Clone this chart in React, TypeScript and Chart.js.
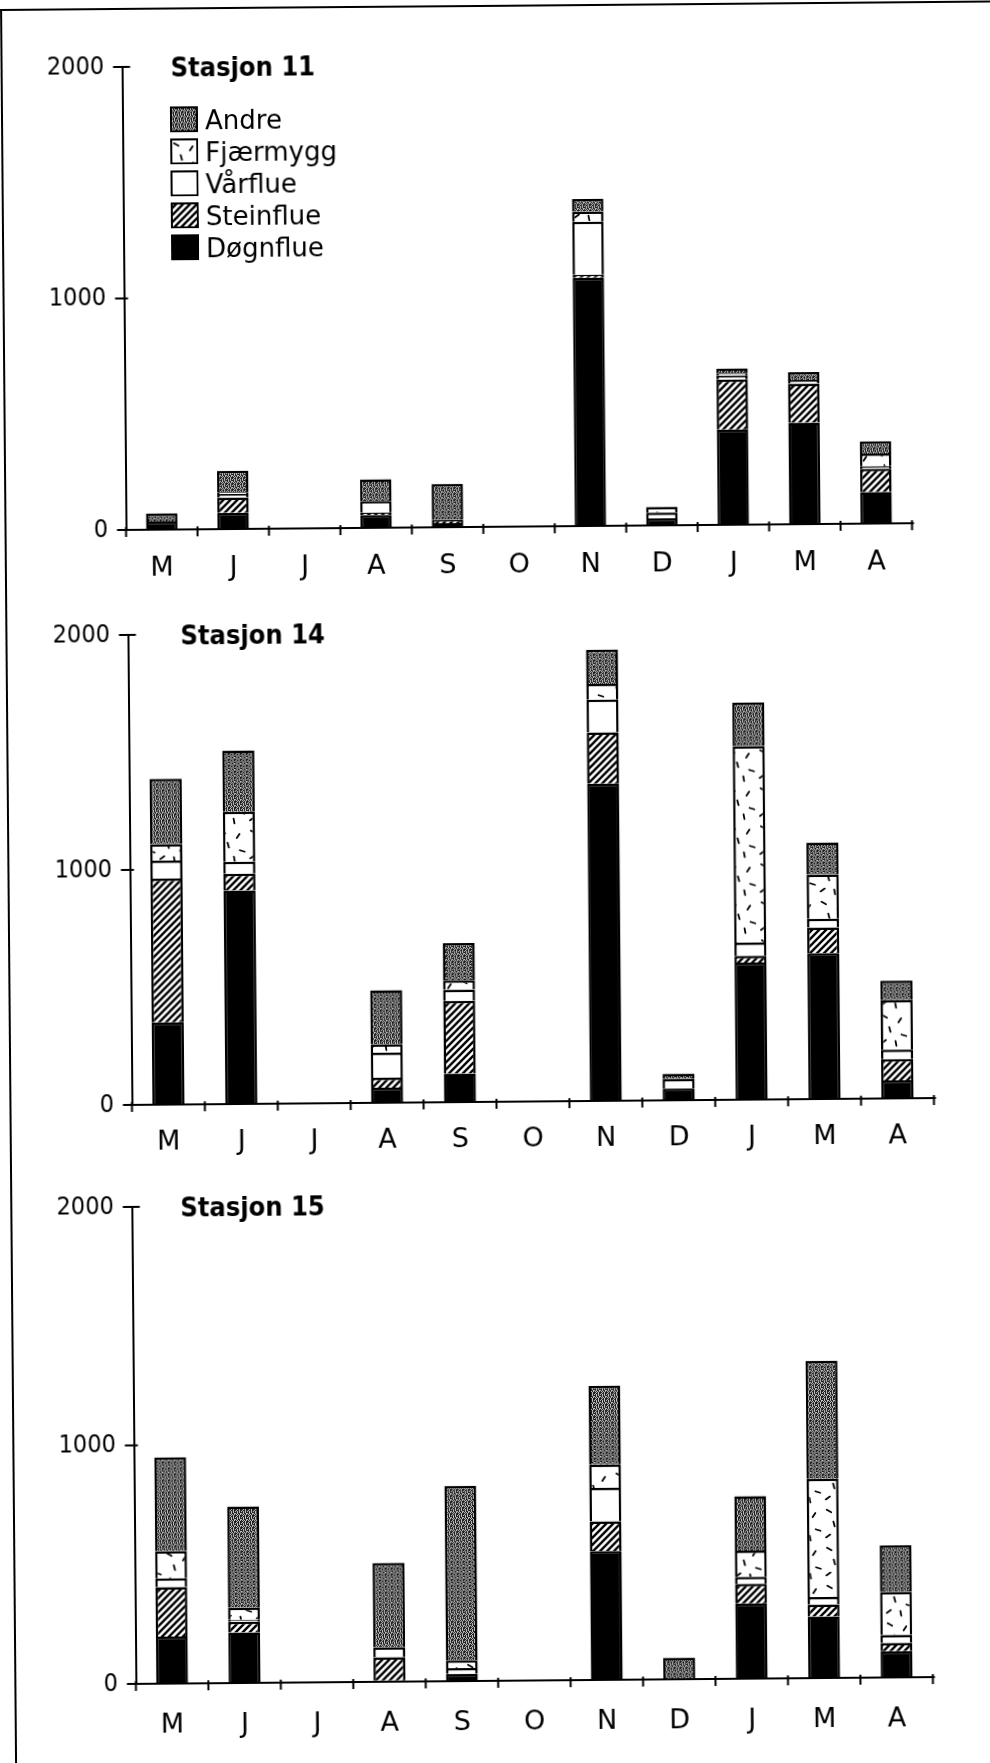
import React, { useEffect, useRef } from "react";
import { Chart, registerables } from "chart.js";

Chart.register(...registerables);

// ---------- data ----------
const months = ["M", "J", "J", "A", "S", "O", "N", "D", "J", "M", "A"];
const seriesLabels = ["Døgnflue", "Steinflue", "Vårflue", "Fjærmygg", "Andre"];
const legendOrder = [4, 3, 2, 1, 0]; // Andre, Fjærmygg, Vårflue, Steinflue, Døgnflue
const yTickValues = [0, 1000, 2000];

// Stasjon 11
const st11Dognflue = [35, 70, null, 55, 17, null, 1072, 30, 411, 438, 136];
const st11Steinflue = [0, 66, null, 11, 14, null, 13, 0, 216, 169, 101];
const st11Varflue = [0, 15, null, 50, 0, null, 229, 25, 18, 15, 10];
const st11Fjarmygg = [0, 8, null, 0, 0, null, 45, 25, 10, 0, 55];
const st11Andre = [35, 93, null, 94, 156, null, 53, 0, 20, 35, 53];

// Stasjon 14
const st14Dognflue = [350, 908, null, 64, 121, null, 1350, 50, 583, 620, 77];
const st14Steinflue = [612, 72, null, 42, 310, null, 218, 0, 29, 110, 90];
const st14Varflue = [76, 51, null, 107, 48, null, 139, 40, 56, 37, 40];
const st14Fjarmygg = [71, 213, null, 36, 39, null, 68, 0, 836, 188, 211];
const st14Andre = [277, 260, null, 230, 159, null, 145, 23, 185, 137, 83];

// Stasjon 15
const st15Dognflue = [197, 212, null, 5, 30, null, 540, 0, 315, 258, 110];
const st15Steinflue = [208, 45, null, 98, 0, null, 125, 0, 82, 50, 35];
const st15Varflue = [36, 8, null, 42, 25, null, 140, 0, 30, 32, 33];
const st15Fjarmygg = [115, 50, null, 0, 32, null, 98, 0, 110, 495, 180];
const st15Andre = [393, 425, null, 353, 732, null, 330, 90, 228, 495, 195];

const st11 = [st11Dognflue, st11Steinflue, st11Varflue, st11Fjarmygg, st11Andre];
const st14 = [st14Dognflue, st14Steinflue, st14Varflue, st14Fjarmygg, st14Andre];
const st15 = [st15Dognflue, st15Steinflue, st15Varflue, st15Fjarmygg, st15Andre];

// ---------- styles ----------
const FONT_COND = "'DejaVu Sans Condensed', 'DejaVu Sans', sans-serif";
const FONT = "'DejaVu Sans', sans-serif";

function makeTile(w: number, h: number, draw: (g: CanvasRenderingContext2D) => void) {
  const c = document.createElement("canvas");
  c.width = w;
  c.height = h;
  const g = c.getContext("2d")!;
  draw(g);
  return c;
}

const stippleRows = ["X.XX.X", ".X.X.X", "XX.X.X", ".X.XX.", "X.X.X.", "XX.X.X"];
const dashMarks: [number, number, number][] = [
  [6, 6, 0.5],
  [21, 10, -1.0],
  [11, 19, 1.3],
  [25, 25, 0.3],
  [5, 31, -0.6],
  [17, 33, 1.4],
];

function makeFills(ctx: CanvasRenderingContext2D): (string | CanvasPattern)[] {
  const stipple = makeTile(6, 6, (g) => {
    g.fillStyle = "#c4c4c4";
    g.fillRect(0, 0, 6, 6);
    g.fillStyle = "#1e1e1e";
    stippleRows.forEach((row, y) =>
      row.split("").forEach((ch, x) => {
        if (ch === "X") g.fillRect(x, y, 1, 1);
      })
    );
  });
  const hatch = makeTile(7, 7, (g) => {
    g.fillStyle = "#fff";
    g.fillRect(0, 0, 7, 7);
    g.strokeStyle = "#000";
    g.lineWidth = 2.4;
    g.beginPath();
    g.moveTo(-1, 8);
    g.lineTo(8, -1);
    g.moveTo(-2, 2);
    g.lineTo(2, -2);
    g.moveTo(5, 9);
    g.lineTo(9, 5);
    g.stroke();
  });
  const dashes = makeTile(30, 38, (g) => {
    g.fillStyle = "#fff";
    g.fillRect(0, 0, 30, 38);
    g.strokeStyle = "#000";
    g.lineWidth = 1.8;
    g.lineCap = "round";
    dashMarks.forEach(([x, y, a]) => {
      g.beginPath();
      g.moveTo(x - 2.5 * Math.cos(a), y - 2.5 * Math.sin(a));
      g.lineTo(x + 2.5 * Math.cos(a), y + 2.5 * Math.sin(a));
      g.stroke();
    });
  });
  return [
    "#000",
    ctx.createPattern(hatch, "repeat")!,
    "#fff",
    ctx.createPattern(dashes, "repeat")!,
    ctx.createPattern(stipple, "repeat")!,
  ];
}

const axisMarks = {
  id: "axisMarks",
  afterDraw(chart: any) {
    const { ctx, chartArea: a, scales } = chart;
    const n = chart.data.labels.length;
    ctx.save();
    ctx.strokeStyle = "#000";
    ctx.lineWidth = 2;
    ctx.beginPath();
    ctx.moveTo(a.left - 1, a.bottom);
    ctx.lineTo(a.right + 2, a.bottom);
    for (let i = 0; i <= n; i++) {
      const x = scales.x.getPixelForValue(i - 0.5);
      ctx.moveTo(x, a.bottom - 3);
      ctx.lineTo(x, a.bottom + 7);
    }
    yTickValues.forEach((v) => {
      const y = scales.y.getPixelForValue(v);
      ctx.moveTo(a.left - 9, y);
      ctx.lineTo(a.left + (v === 2000 ? 8 : 4), y);
    });
    ctx.stroke();
    ctx.restore();
  },
};

type PanelProps = {
  top: number;
  height: number;
  axisLeft: number;
  axisRight: number;
  plotTop: number;
  plotBottom: number;
  labelPad: number;
  series: (number | null)[][];
};

function Panel(p: PanelProps) {
  const ref = useRef<HTMLCanvasElement>(null);
  useEffect(() => {
    const canvas = ref.current!;
    const ctx = canvas.getContext("2d")!;
    const fills = makeFills(ctx);
    const chart = new Chart(canvas, {
      type: "bar",
      data: {
        labels: months,
        datasets: seriesLabels.map((name, i) => ({
          label: name,
          data: p.series[i],
          backgroundColor: fills[i] as any,
          borderColor: "#000",
          borderWidth: { top: 2.5, left: 2.5, right: 2.5, bottom: 0 },
          borderSkipped: false,
          categoryPercentage: 1,
          barPercentage: 0.44,
        })),
      },
      options: {
        animation: false,
        responsive: false,
        maintainAspectRatio: false,
        devicePixelRatio: 1,
        layout: {
          padding: { left: 0, right: 990 - p.axisRight, top: p.plotTop - p.top, bottom: 0 },
        },
        plugins: {
          legend: { display: false },
          tooltip: { enabled: false },
          title: { display: false },
        },
        scales: {
          x: {
            stacked: true,
            offset: true,
            grid: { display: false },
            border: { display: true, color: "#000", width: 2 },
            ticks: {
              color: "#000",
              font: { family: FONT, size: 27 },
              padding: p.labelPad,
              maxRotation: 0,
              autoSkip: false,
            },
            afterFit: (s: any) => {
              s.height = p.top + p.height - p.plotBottom;
            },
          },
          y: {
            stacked: true,
            min: 0,
            max: 2000,
            grid: { display: false },
            border: { display: true, color: "#000", width: 2 },
            ticks: {
              color: "#000",
              font: { family: FONT_COND, size: 25 },
              padding: 10,
              callback: (v: any) => String(v),
            },
            afterBuildTicks: (s: any) => {
              s.ticks = yTickValues.map((v) => ({ value: v }));
            },
            afterFit: (s: any) => {
              s.width = p.axisLeft;
            },
          },
        },
      } as any,
      plugins: [axisMarks],
    });
    return () => chart.destroy();
  }, []);
  return (
    <div style={{ position: "absolute", left: 0, top: p.top, width: 990, height: p.height }}>
      <canvas ref={ref} width={990} height={p.height} style={{ width: 990, height: p.height, display: "block" }} />
    </div>
  );
}

function Swatch({ index }: { index: number }) {
  const ref = useRef<HTMLCanvasElement>(null);
  useEffect(() => {
    const c = ref.current!;
    const g = c.getContext("2d")!;
    const fills = makeFills(g);
    g.fillStyle = "#000";
    g.fillRect(0, 0, c.width, c.height);
    g.fillStyle = fills[index] as any;
    g.fillRect(2, 2, c.width - 4, c.height - 4);
  }, []);
  return <canvas ref={ref} width={28} height={26} style={{ display: "block" }} />;
}

const legendTops = [108, 140, 172, 204, 236];

function Legend() {
  return (
    <>
      {legendOrder.map((si, row) => (
        <div
          key={si}
          style={{ position: "absolute", left: 169, top: legendTops[row], height: 26, display: "flex", alignItems: "center" }}
        >
          <Swatch index={si} />
          <span
            style={{
              marginLeft: 7,
              font: `26px ${FONT}`,
              lineHeight: "26px",
              color: "#000",
              whiteSpace: "nowrap",
              position: "relative",
              top: 1,
            }}
          >
            {seriesLabels[si]}
          </span>
        </div>
      ))}
    </>
  );
}

function Title({ text, left, top }: { text: string; left: number; top: number }) {
  return (
    <div
      style={{
        position: "absolute",
        left,
        top,
        font: `bold 27px ${FONT_COND}`,
        lineHeight: "30px",
        color: "#000",
        whiteSpace: "nowrap",
      }}
    >
      {text}
    </div>
  );
}

export default function App() {
  return (
    <div
      style={{
        position: "absolute",
        left: 0,
        top: 0,
        width: 990,
        height: 1763,
        background: "#fff",
        overflow: "hidden",
      }}
    >
      <div
        style={{
          position: "absolute",
          left: 0,
          top: 0,
          width: 990,
          height: 1763,
          transform: "rotate(-0.49deg)",
          transformOrigin: "0 0",
        }}
      >
        <div style={{ position: "absolute", left: 0, top: 9, width: 1000, height: 2, background: "#000" }} />
        <div style={{ position: "absolute", left: 0, top: 9, width: 2, height: 1780, background: "#000" }} />

        <Panel top={0} height={600} axisLeft={121.5} axisRight={907.5} plotTop={68} plotBottom={531} labelPad={15} series={st11} />
        <Panel top={600} height={570} axisLeft={122.5} axisRight={924.5} plotTop={636} plotBottom={1106} labelPad={14} series={st14} />
        <Panel top={1170} height={593} axisLeft={121.5} axisRight={918.5} plotTop={1208} plotBottom={1685} labelPad={18} series={st15} />

        <Title text="Stasjon 11" left={170} top={54} />
        <Title text="Stasjon 14" left={175} top={622} />
        <Title text="Stasjon 15" left={170} top={1194} />
        <Legend />
      </div>
    </div>
  );
}
